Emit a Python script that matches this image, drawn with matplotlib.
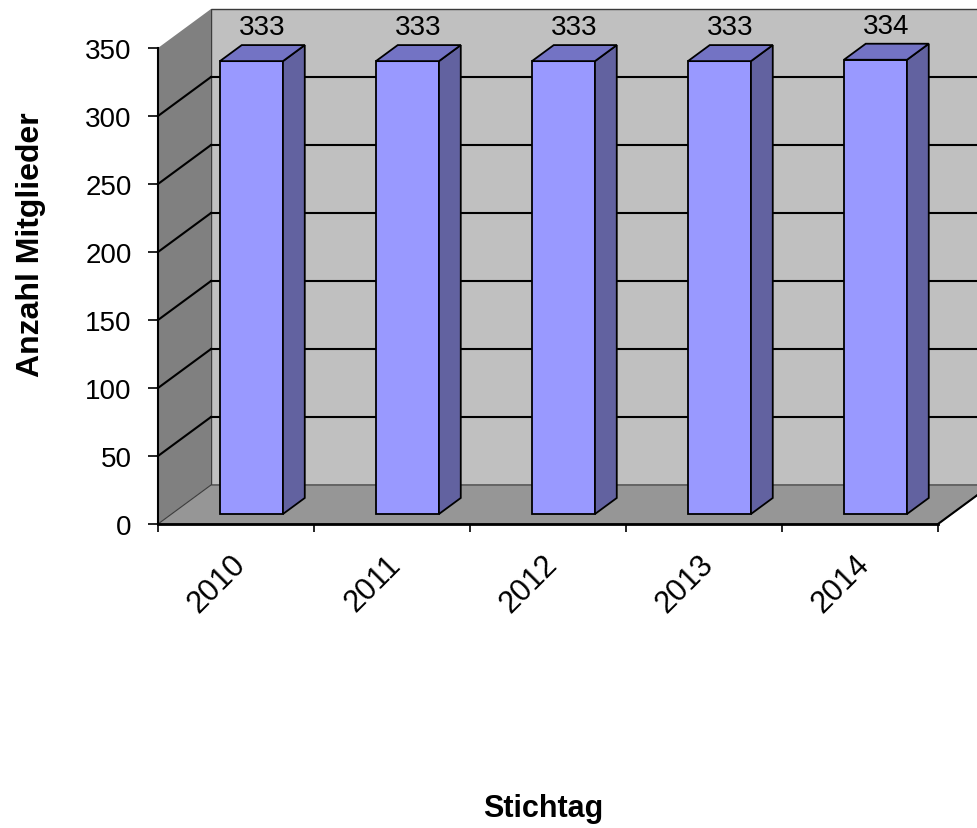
import matplotlib.pyplot as plt
import matplotlib.transforms as mtransforms
from matplotlib.patches import Polygon

years = ['2010', '2011', '2012', '2013', '2014']
members = [333, 333, 333, 333, 334]
y_ticks = [0, 50, 100, 150, 200, 250, 300, 350]

plt.rcParams['font.family'] = ['Liberation Sans', 'DejaVu Sans']

# depth of the pseudo-3D box in data units (x: categories, y: members)
DX, DY = 0.34, 28.7
# bar placement inside its slot and within the depth
BAR_LEFT, BAR_W = 0.31, 0.404
F1, F2 = 0.256, 0.667

n = len(years)
ymax = y_ticks[-1]

fig = plt.figure(figsize=(9.78, 8.29), dpi=100)
ax = fig.add_axes([158 / 978, 1 - 525 / 829, 780 / 978, 476 / 829])
ax.set_xlim(0, n)
ax.set_ylim(0, ymax)
ax.set_facecolor('none')
for s in ['top', 'right']:
    ax.spines[s].set_visible(False)
ax.spines['left'].set_linewidth(1.5)
ax.spines['bottom'].set_linewidth(2)
ax.spines['left'].set_zorder(6)
ax.spines['bottom'].set_zorder(6)

def poly(pts, fc, ec='none', lw=0.0, z=1):
    p = Polygon(pts, closed=True, facecolor=fc, edgecolor=ec, linewidth=lw,
                zorder=z, clip_on=False, joinstyle='miter')
    ax.add_patch(p)

# walls and floor
poly([(DX, DY), (n + DX, DY), (n + DX, ymax + DY), (DX, ymax + DY)],
     '#c0c0c0', '#3a3a3a', 1.0, z=1)
poly([(0, 0), (DX, DY), (DX, ymax + DY), (0, ymax)], '#808080', z=1)
poly([(0, 0), (n, 0), (n + DX, DY), (DX, DY)], '#969696', '#3a3a3a', 0.8, z=2)
ax.plot([n, n + DX], [0, DY], color='black', lw=1.5, zorder=3, clip_on=False)

# gridlines on back and side wall
for t in y_ticks[1:-1]:
    ax.plot([DX, n + DX], [t + DY, t + DY], color='black', lw=1.5, zorder=3, clip_on=False)
    ax.plot([0, DX], [t, t + DY], color='black', lw=1.5, zorder=3, clip_on=False)

# bars
for i, v in enumerate(members):
    x0 = i + BAR_LEFT
    x1 = x0 + BAR_W
    a0, a1 = x0 + F1 * DX, x1 + F1 * DX
    b0, b1 = x0 + F2 * DX, x1 + F2 * DX
    y1, y2 = F1 * DY, F2 * DY
    poly([(a0, y1), (a1, y1), (a1, v + y1), (a0, v + y1)], '#9999ff', 'black', 1.3, z=4)
    poly([(a1, y1), (b1, y2), (b1, v + y2), (a1, v + y1)], '#6262a0', 'black', 1.3, z=4)
    poly([(a0, v + y1), (a1, v + y1), (b1, v + y2), (b0, v + y2)], '#7373c4', 'black', 1.3, z=4)
    ax.annotate(str(v), ((a0 + b1) / 2, v + y2), xytext=(0, 8), textcoords='offset points',
                ha='center', va='baseline', fontsize=20, zorder=7, annotation_clip=False)

ax.set_yticks(y_ticks)
ax.tick_params(axis='y', length=7, width=1.2, pad=12, labelsize=20)
ax.set_xticks([i + 0.5 for i in range(n)], labels=years, rotation=45,
              ha='right', rotation_mode='anchor')
ax.set_xticks(range(n + 1), minor=True)
ax.tick_params(axis='x', which='major', length=0, pad=18, labelsize=22)
ax.tick_params(axis='x', which='minor', length=6, width=1.2)
shift = mtransforms.ScaledTranslation(-0.06, 0, fig.dpi_scale_trans)
for lbl in ax.get_xticklabels():
    lbl.set_transform(lbl.get_transform() + shift)

fig.text(31 / 978, 1 - 245 / 829, 'Anzahl Mitglieder', rotation=90, ha='center',
         va='center', fontsize=23, fontweight='bold')
fig.text(543 / 978, 1 - 817 / 829, 'Stichtag', ha='center', va='baseline',
         fontsize=22, fontweight='bold')

fig.savefig('out.png', dpi=100, facecolor='white')
